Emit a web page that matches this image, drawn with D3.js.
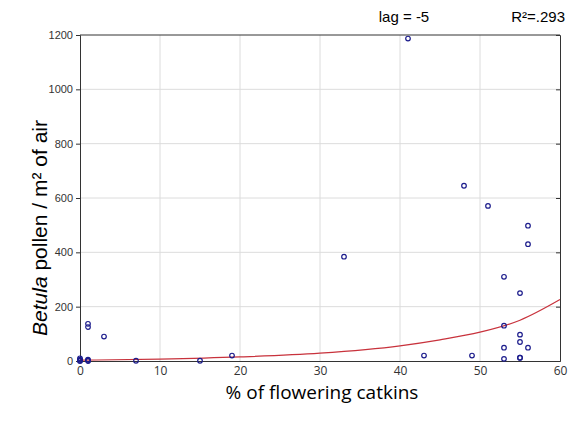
<!DOCTYPE html>
<html>
<head>
<meta charset="utf-8">
<script src="https://cdn.jsdelivr.net/npm/d3@7"></script>
<style>
  body { margin: 0; background: #fff; }
  svg { display: block; }
</style>
</head>
<body>
<svg id="chart"></svg>
<script>
// % of flowering catkins vs Betula pollen per m3 of air
const catkins = [0, 0, 0, 0, 1, 1, 1, 1, 1, 3, 7, 15, 19, 33, 41, 43, 48, 49, 51, 53, 53, 53, 53, 55, 55, 55, 55, 55, 56, 56, 56];
const pollen  = [10, 5, 2, 0, 137, 125, 5, 2, 0, 90, 1, 1, 20, 384, 1187, 20, 645, 20, 571, 310, 130, 49, 8, 250, 97, 70, 12, 12, 498, 430, 49];

// fitted curve
const fitX = [0, 10, 20, 30, 40, 45, 50, 55, 60];
const fitY = [3, 7, 15, 29, 56, 78, 106, 150, 226];

const xTicks = [0, 10, 20, 30, 40, 50, 60];
const yTicks = [0, 200, 400, 600, 800, 1000, 1200];

const W = 579, H = 424;
const margin = { top: 35, right: 19, bottom: 63, left: 80 },
    width = W - margin.left - margin.right,
    height = H - margin.top - margin.bottom;

const svg = d3.select("#chart")
    .attr("width", W)
    .attr("height", H);

const g = svg.append("g")
    .attr("transform", `translate(${margin.left},${margin.top})`);

const x = d3.scaleLinear().domain([0, 60]).range([0, width]);
const y = d3.scaleLinear().domain([0, 1200]).range([height, 0]);

// grid
g.append("g")
    .selectAll("line")
    .data(xTicks.slice(1, -1))
    .join("line")
    .attr("x1", d => x(d)).attr("x2", d => x(d))
    .attr("y1", 0).attr("y2", height)
    .attr("stroke", "#dcdcdc");

g.append("g")
    .selectAll("line")
    .data(yTicks.slice(1, -1))
    .join("line")
    .attr("x1", 0).attr("x2", width)
    .attr("y1", d => y(d)).attr("y2", d => y(d))
    .attr("stroke", "#dcdcdc");

// axes
const yAxis = g.append("g")
    .call(d3.axisLeft(y).tickValues(yTicks).tickFormat(d3.format("d")).tickSize(4).tickPadding(3));
yAxis.select(".domain").attr("stroke", "#333");
yAxis.selectAll(".tick line").attr("stroke", "#333");
yAxis.selectAll("text")
    .attr("fill", "#333")
    .style("font-family", "Liberation Sans, Arial, sans-serif")
    .style("font-size", "11px");

const yRight = g.append("g")
    .attr("transform", `translate(${width},0)`)
    .call(d3.axisLeft(y).tickValues(yTicks.slice(1, -1)).tickSize(4).tickFormat(""));
yRight.select(".domain").attr("stroke", "#333");
yRight.selectAll(".tick line").attr("stroke", "#333");

const xAxis = g.append("g")
    .attr("transform", `translate(0,${height})`)
    .call(d3.axisBottom(x).tickValues(xTicks).tickSize(0).tickPadding(5));
xAxis.select(".domain").attr("stroke", "#333");
xAxis.selectAll("text")
    .attr("fill", "#333")
    .style("font-family", "Open Sans, sans-serif")
    .style("font-size", "12px");

g.append("line")
    .attr("x1", 0).attr("x2", width)
    .attr("y1", 0).attr("y2", 0)
    .attr("stroke", "#333");

// fit line
const line = d3.line()
    .x(d => x(d[0]))
    .y(d => y(d[1]))
    .curve(d3.curveMonotoneX);

g.append("path")
    .datum(fitX.map((d, i) => [d, fitY[i]]))
    .attr("d", line)
    .attr("fill", "none")
    .attr("stroke", "#c8323c")
    .attr("stroke-width", 1.2);

// points
g.append("g")
    .selectAll("circle")
    .data(catkins.map((d, i) => [d, pollen[i]]))
    .join("circle")
    .attr("cx", d => x(d[0]))
    .attr("cy", d => y(d[1]))
    .attr("r", 2.3)
    .attr("fill", "none")
    .attr("stroke", "#1c1c8c")
    .attr("stroke-width", 1.2);

// header texts
svg.append("text")
    .attr("x", 404)
    .attr("y", 22)
    .attr("text-anchor", "middle")
    .style("font-family", "Liberation Sans, Arial, sans-serif")
    .style("font-size", "15px")
    .text("lag = -5");

svg.append("text")
    .attr("x", 565)
    .attr("y", 22)
    .attr("text-anchor", "end")
    .style("font-family", "Liberation Sans, Arial, sans-serif")
    .style("font-size", "15px")
    .text("R²=.293");

// axis labels
svg.append("text")
    .attr("x", 322)
    .attr("y", 399)
    .attr("text-anchor", "middle")
    .style("font-family", "Open Sans, sans-serif")
    .style("font-size", "19px")
    .text("% of flowering catkins");

const yl = svg.append("text")
    .attr("transform", `translate(47,${margin.top + height / 2 + 30}) rotate(-90)`)
    .attr("text-anchor", "middle")
    .style("font-family", "Liberation Sans, Arial, sans-serif")
    .style("font-size", "21px");
yl.append("tspan").style("font-style", "italic").text("Betula");
yl.append("tspan").text(" pollen / m² of air");
</script>
</body>
</html>
